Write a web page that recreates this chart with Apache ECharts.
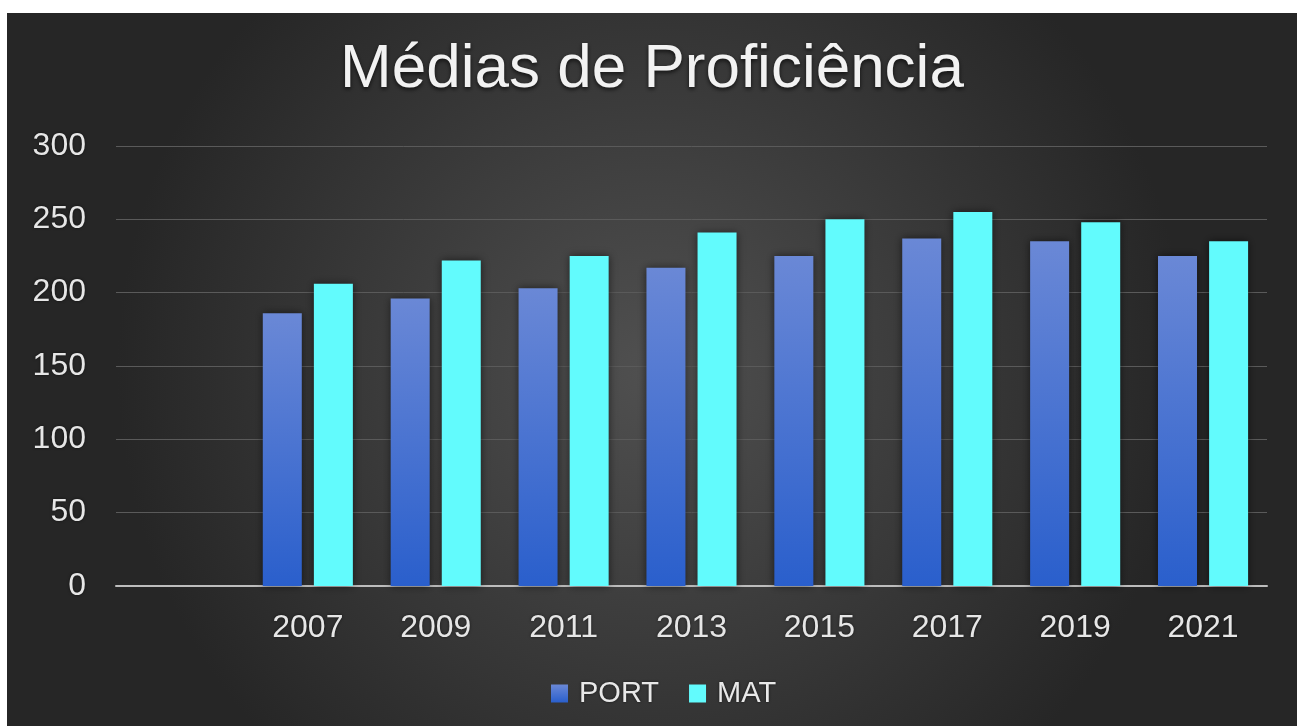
<!DOCTYPE html>
<html>
<head>
<meta charset="utf-8">
<script src="https://cdn.jsdelivr.net/npm/echarts@6/dist/echarts.min.js"></script>
<style>
html,body{margin:0;padding:0;background:#ffffff;width:1297px;height:726px;overflow:hidden;}
#chart{position:absolute;left:7px;top:13px;width:1290px;height:713px;}
</style>
</head>
<body>
<div id="chart"></div>
<script>
const titleText = 'Médias de Proficiência';
const years = ['2007','2009','2011','2013','2015','2017','2019','2021'];
const port = [186, 196, 203, 217, 225, 237, 235, 225];
const mat  = [206, 222, 225, 241, 250, 255, 248, 235];
const yTicks = { min: 0, max: 300, interval: 50 };

const categories = [''].concat(years);
const portData = ['-'].concat(port);
const matData = ['-'].concat(mat);

const font = '"Liberation Sans", Arial, sans-serif';
const chart = echarts.init(document.getElementById('chart'));
chart.setOption({
  backgroundColor: {
    type: 'radial', x: 0.5, y: 0.5, r: 0.75,
    colorStops: [
      { offset: 0, color: '#505050' },
      { offset: 1, color: '#262626' }
    ]
  },
  animation: false,
  title: {
    text: titleText,
    left: 'center',
    top: 26,
    padding: 0,
    textStyle: {
      color: '#f2f2f2', fontFamily: font, fontSize: 62, fontWeight: 'normal',
      textShadowColor: 'rgba(0,0,0,0.7)', textShadowBlur: 4, textShadowOffsetY: 2
    }
  },
  legend: {
    top: 666,
    left: 544,
    padding: 0,
    itemWidth: 17,
    itemHeight: 18,
    itemGap: 30,
    icon: 'rect',
    textStyle: {
      color: '#e8e8e8', fontFamily: font, fontSize: 29, padding: [0, 0, 0, 6],
      textShadowColor: 'rgba(0,0,0,0.6)', textShadowBlur: 3
    },
    data: ['PORT', 'MAT']
  },
  grid: { left: 109, right: 30, top: 133, bottom: 140 },
  xAxis: {
    type: 'category',
    data: categories,
    axisTick: { show: false },
    axisLine: { lineStyle: { color: '#bdbdbd', width: 2 } },
    axisLabel: {
      color: '#e6e6e6', fontFamily: font, fontSize: 32, margin: 26,
      textShadowColor: 'rgba(0,0,0,0.6)', textShadowBlur: 3
    }
  },
  yAxis: {
    type: 'value',
    min: yTicks.min, max: yTicks.max, interval: yTicks.interval,
    axisLine: { show: false },
    axisTick: { show: false },
    splitLine: { lineStyle: { color: '#5a5a5a', width: 1 } },
    axisLabel: {
      color: '#e6e6e6', fontFamily: font, fontSize: 32, margin: 30,
      textShadowColor: 'rgba(0,0,0,0.6)', textShadowBlur: 3
    }
  },
  series: [
    {
      name: 'PORT', type: 'bar', data: portData,
      barWidth: 39, barGap: '31%',
      itemStyle: {
        color: {
          type: 'linear', x: 0, y: 0, x2: 0, y2: 1,
          colorStops: [
            { offset: 0, color: '#6a88d6' },
            { offset: 1, color: '#2a5fcc' }
          ]
        },
        shadowColor: 'rgba(0,0,0,0.55)', shadowBlur: 8
      }
    },
    {
      name: 'MAT', type: 'bar', data: matData,
      barWidth: 39, barGap: '31%',
      itemStyle: {
        color: '#62fbfd',
        shadowColor: 'rgba(0,0,0,0.55)', shadowBlur: 8
      }
    }
  ]
});
</script>
</body>
</html>
